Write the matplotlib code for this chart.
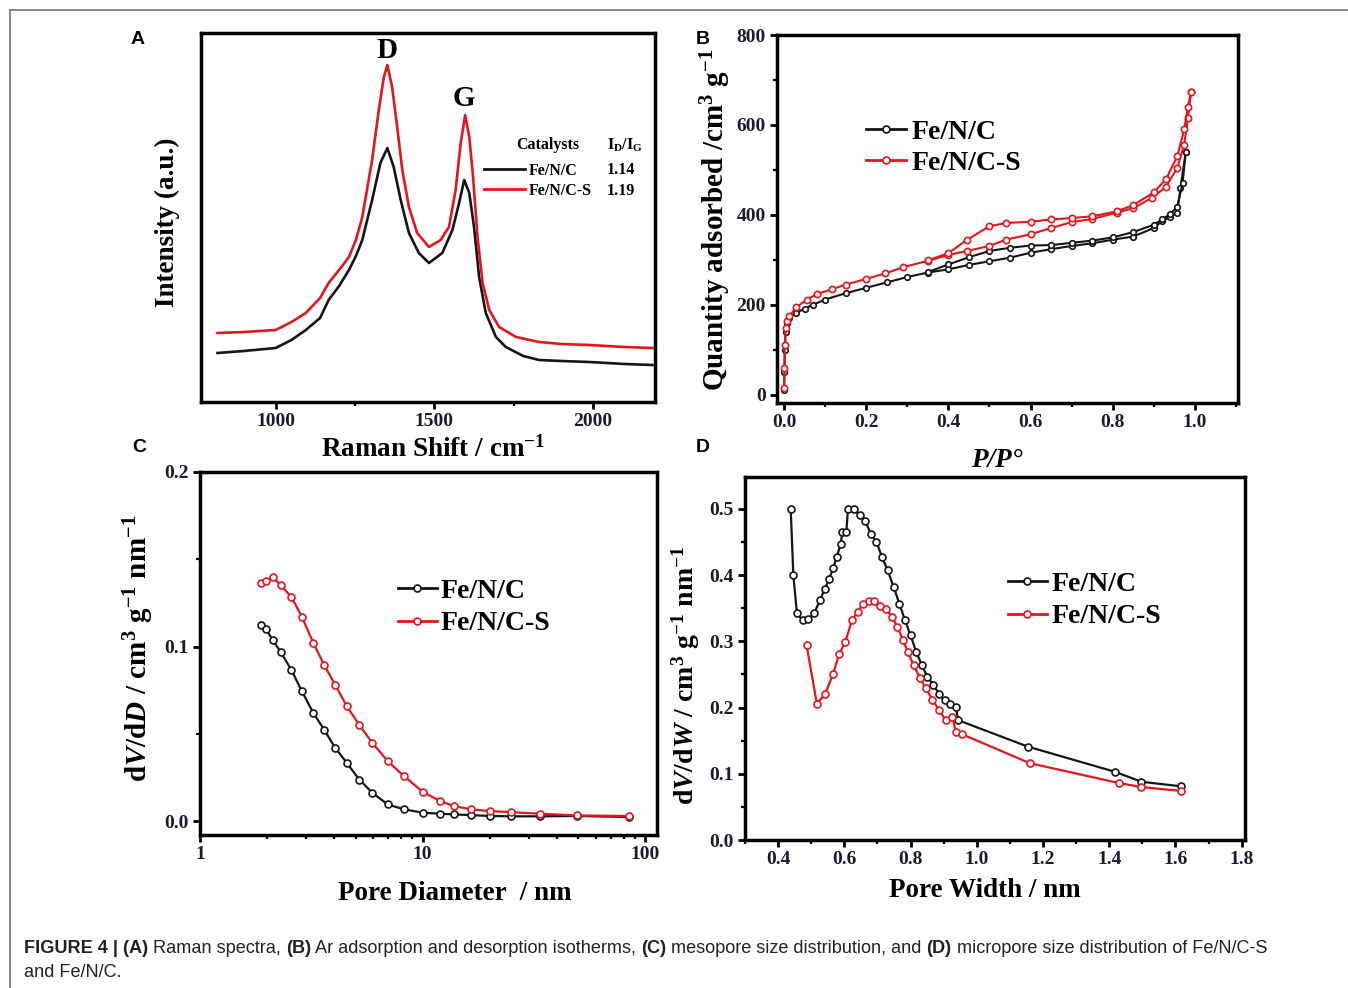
import matplotlib
matplotlib.use("Agg")
import matplotlib.pyplot as plt
from matplotlib.lines import Line2D
from matplotlib.ticker import MultipleLocator, NullFormatter, FormatStrFormatter
from matplotlib import font_manager

W, H = 1348, 988

# ---------------- data ----------------
# (A) Raman spectra, intensity in arbitrary units
raman_red_x = [817, 900, 1000, 1050, 1095, 1140, 1167, 1200, 1231, 1253, 1273, 1304, 1325,
               1341, 1352, 1367, 1383, 1399, 1420, 1446, 1483, 1520, 1546, 1567, 1583,
               1597, 1610, 1622, 1636, 1652, 1673, 1704, 1757, 1830, 1900, 1988, 2100, 2187]
raman_red_y = [65, 66, 68, 76, 85, 100, 115, 128, 141, 158, 181, 238, 288,
               321, 333, 311, 271, 228, 191, 165, 151, 158, 171, 208, 255,
               283, 261, 221, 161, 115, 88, 71, 61, 56, 54, 53, 51, 50]
raman_blk_x = [817, 900, 1000, 1050, 1095, 1140, 1167, 1200, 1231, 1253, 1273, 1304, 1330,
               1352, 1372, 1394, 1420, 1451, 1483, 1525, 1557, 1578, 1594, 1610, 1625,
               1641, 1662, 1694, 1725, 1780, 1830, 1900, 1988, 2100, 2187]
raman_blk_y = [45, 47, 50, 58, 68, 80, 98, 112, 128, 142, 158, 198, 235,
               250, 231, 198, 165, 145, 135, 145, 168, 195, 218, 205, 171,
               121, 85, 61, 51, 42, 38, 37, 36, 34, 33]
catalysts = ["Fe/N/C", "Fe/N/C-S"]
id_ig = [1.14, 1.19]

# (B) Ar adsorption / desorption isotherms
iso_blk_ads_p = [0.0005, 0.001, 0.002, 0.004, 0.008, 0.013, 0.03, 0.05, 0.07, 0.1, 0.15,
                 0.2, 0.25, 0.3, 0.35, 0.4, 0.45, 0.5, 0.55, 0.6, 0.65, 0.7, 0.75,
                 0.8, 0.85, 0.9, 0.92, 0.94, 0.957, 0.965, 0.978]
iso_blk_ads_q = [10, 50, 100, 140, 160, 172, 182, 192, 200, 212, 226,
                 238, 250, 262, 272, 279, 289, 297, 305, 316, 324, 331, 337,
                 345, 352, 371, 386, 395, 405, 460, 541]
iso_blk_des_p = [0.978, 0.97, 0.957, 0.94, 0.92, 0.9, 0.85, 0.8, 0.75, 0.7, 0.65, 0.6,
                 0.55, 0.5, 0.45, 0.4, 0.35]
iso_blk_des_q = [541, 470, 418, 402, 390, 378, 362, 350, 343, 338, 333, 332,
                 327, 320, 306, 290, 273]
iso_red_ads_p = [0.0005, 0.001, 0.002, 0.004, 0.008, 0.013, 0.03, 0.056, 0.08, 0.117, 0.15,
                 0.2, 0.247, 0.29, 0.35, 0.4, 0.446, 0.5, 0.54, 0.6, 0.65, 0.7, 0.75,
                 0.81, 0.85, 0.896, 0.93, 0.957, 0.974, 0.983, 0.991]
iso_red_ads_q = [15, 60, 110, 148, 165, 175, 195, 212, 224, 235, 245,
                 258, 270, 284, 298, 311, 320, 331, 345, 357, 371, 384, 391,
                 405, 415, 438, 463, 504, 556, 615, 674]
iso_red_des_p = [0.991, 0.983, 0.974, 0.957, 0.93, 0.9, 0.85, 0.81, 0.75, 0.7, 0.65,
                 0.6, 0.54, 0.5, 0.446, 0.4, 0.35]
iso_red_des_q = [674, 640, 590, 530, 480, 450, 422, 408, 397, 393, 390,
                 385, 382, 375, 345, 315, 299]

# (C) mesopore size distribution
meso_d = [1.88, 1.98, 2.12, 2.30, 2.57, 2.87, 3.23, 3.61, 4.05, 4.57, 5.19, 5.94,
          6.98, 8.25, 10.0, 12.0, 13.8, 16.5, 20.0, 25.0, 33.6, 49.5, 84.8]
meso_blk = [0.1124, 0.110, 0.1038, 0.097, 0.0867, 0.0743, 0.0619, 0.0524, 0.0419,
            0.0333, 0.0238, 0.0162, 0.0095, 0.0067, 0.0048, 0.0042, 0.0038, 0.0034,
            0.0029, 0.0027, 0.0027, 0.0029, 0.0023]
meso_red = [0.1362, 0.1375, 0.140, 0.1352, 0.1286, 0.117, 0.102, 0.0895, 0.078,
            0.0657, 0.0552, 0.0448, 0.0343, 0.0257, 0.0168, 0.0114, 0.0086, 0.0067,
            0.0057, 0.0051, 0.0042, 0.0032, 0.0029]

# (D) micropore size distribution
micro_blk_w = [0.438, 0.446, 0.457, 0.474, 0.491, 0.509, 0.526, 0.541, 0.554, 0.566,
               0.577, 0.589, 0.594, 0.606, 0.611, 0.629, 0.646, 0.663, 0.68, 0.697,
               0.714, 0.731, 0.749, 0.766, 0.783, 0.80, 0.817, 0.834, 0.851, 0.869,
               0.886, 0.903, 0.92, 0.937, 0.943, 1.154, 1.417, 1.497, 1.617]
micro_blk = [0.500, 0.400, 0.342, 0.332, 0.334, 0.342, 0.362, 0.379, 0.394, 0.410,
             0.427, 0.447, 0.465, 0.465, 0.500, 0.500, 0.490, 0.482, 0.462, 0.450,
             0.427, 0.407, 0.382, 0.357, 0.332, 0.309, 0.284, 0.264, 0.246, 0.234,
             0.221, 0.211, 0.206, 0.201, 0.181, 0.141, 0.103, 0.088, 0.081]
micro_red_w = [0.486, 0.517, 0.543, 0.566, 0.585, 0.603, 0.623, 0.640, 0.657, 0.674,
               0.691, 0.709, 0.726, 0.743, 0.76, 0.777, 0.792, 0.809, 0.829, 0.846,
               0.866, 0.886, 0.906, 0.926, 0.937, 0.954, 1.16, 1.429, 1.497, 1.617]
micro_red = [0.294, 0.206, 0.221, 0.251, 0.281, 0.299, 0.332, 0.344, 0.357, 0.361,
             0.361, 0.354, 0.349, 0.337, 0.322, 0.302, 0.284, 0.264, 0.244, 0.229,
             0.212, 0.196, 0.181, 0.186, 0.163, 0.160, 0.116, 0.086, 0.080, 0.074]

BLK = "#151515"
RED = "#e3161d"
TICK = "#1b1b30"

plt.rcParams.update({
    "font.family": "Liberation Serif",
    "font.weight": "bold",
    "mathtext.fontset": "custom",
    "mathtext.rm": "Liberation Serif:bold",
    "mathtext.bf": "Liberation Serif:bold",
    "mathtext.it": "Liberation Serif:italic:bold",
    "mathtext.bfit": "Liberation Serif:italic:bold",
    "axes.linewidth": 2.5,
    "xtick.direction": "out",
    "ytick.direction": "out",
    "xtick.major.width": 2.0,
    "ytick.major.width": 2.0,
    "xtick.minor.width": 1.6,
    "ytick.minor.width": 1.6,
    "xtick.major.size": 5,
    "ytick.major.size": 5,
    "xtick.minor.size": 3,
    "ytick.minor.size": 3,
    "xtick.labelsize": 14,
    "ytick.labelsize": 14,
    "xtick.labelcolor": TICK,
    "ytick.labelcolor": TICK,
})

fig = plt.figure(figsize=(W / 100, H / 100), dpi=100)


def rect(l, t, r, b):
    return [l / W, 1 - b / H, (r - l) / W, (b - t) / H]


def ftext(px, py, s, **kw):
    kw.setdefault("ha", "center")
    kw.setdefault("va", "center")
    return fig.text(px / W, 1 - py / H, s, **kw)


def style(ax):
    ax.tick_params(which="both", top=False, right=False, pad=3)
    for lab in ax.get_xticklabels() + ax.get_yticklabels():
        lab.set_fontweight("bold")


mk = dict(marker="o", mfc="white", mew=1.2)

# ---------------- A ----------------
axA = fig.add_axes(rect(201, 33, 655, 402))
axA.plot(raman_blk_x, raman_blk_y, color=BLK, lw=1.9)
axA.plot(raman_red_x, raman_red_y, color=RED, lw=1.9)
axA.set_xlim(765, 2195)
axA.set_ylim(-4, 365)
axA.xaxis.set_major_locator(MultipleLocator(500))
axA.xaxis.set_minor_locator(MultipleLocator(250))
axA.set_yticks([])
style(axA)
axA.text(1351, 348, "D", ha="center", va="center", fontsize=21)
axA.text(1594, 300, "G", ha="center", va="center", fontsize=21)
hA = [Line2D([], [], color=BLK, lw=2), Line2D([], [], color=RED, lw=2)]
axA.legend(hA, catalysts, loc="center left", bbox_to_anchor=(0.623, 0.600),
           frameon=False, fontsize=11.5, handlelength=2.6, handletextpad=0.2,
           labelspacing=0.25, borderpad=0, borderaxespad=0)
axA.text(0.694, 0.696, "Catalysts", transform=axA.transAxes, va="center", fontsize=11.5)
axA.text(0.894, 0.696, r"I$_\mathbf{D}$/I$_\mathbf{G}$", transform=axA.transAxes,
         va="center", fontsize=11.5)
for r, yy in zip(id_ig, [0.629, 0.572]):
    axA.text(0.894, yy, f"{r:.2f}", transform=axA.transAxes, va="center", fontsize=11.5)

# ---------------- B ----------------
axB = fig.add_axes(rect(777, 35, 1238, 403))
axB.plot(iso_blk_ads_p, iso_blk_ads_q, color=BLK, lw=1.5, ms=4, mec=BLK, **mk)
axB.plot(iso_blk_des_p, iso_blk_des_q, color=BLK, lw=1.5, ms=4, mec=BLK, **mk)
axB.plot(iso_red_ads_p, iso_red_ads_q, color=RED, lw=1.5, ms=4.5, mec=RED, **mk)
axB.plot(iso_red_des_p, iso_red_des_q, color=RED, lw=1.5, ms=4.5, mec=RED, **mk)
axB.set_xlim(-0.017, 1.105)
axB.set_ylim(-18, 800)
axB.xaxis.set_major_locator(MultipleLocator(0.2))
axB.xaxis.set_minor_locator(MultipleLocator(0.1))
axB.xaxis.set_major_formatter(FormatStrFormatter("%.1f"))
axB.yaxis.set_major_locator(MultipleLocator(200))
axB.yaxis.set_minor_locator(MultipleLocator(100))
style(axB)
hB = [Line2D([], [], color=BLK, lw=2, ms=5, mec=BLK, **mk),
      Line2D([], [], color=RED, lw=2, ms=5, mec=RED, **mk)]
axB.legend(hB, catalysts, loc="center left", bbox_to_anchor=(0.193, 0.693),
           frameon=False, fontsize=20, handlelength=1.45, handletextpad=0.2,
           labelspacing=0.2, borderpad=0, borderaxespad=0, numpoints=1)

# ---------------- C ----------------
axC = fig.add_axes(rect(200, 472, 657, 835))
axC.plot(meso_d, meso_blk, color=BLK, lw=1.6, ms=5, mec=BLK, **mk)
axC.plot(meso_d, meso_red, color=RED, lw=1.6, ms=5, mec=RED, **mk)
axC.set_xscale("log")
axC.set_xlim(1, 113)
axC.set_ylim(-0.008, 0.2)
axC.set_xticks([1, 10, 100])
axC.set_xticklabels(["1", "10", "100"])
axC.xaxis.set_minor_formatter(NullFormatter())
axC.yaxis.set_major_locator(MultipleLocator(0.1))
axC.yaxis.set_minor_locator(MultipleLocator(0.05))
axC.yaxis.set_major_formatter(FormatStrFormatter("%.1f"))
style(axC)
hC = [Line2D([], [], color=BLK, lw=2, ms=5, mec=BLK, **mk),
      Line2D([], [], color=RED, lw=2, ms=5, mec=RED, **mk)]
axC.legend(hC, catalysts, loc="center left", bbox_to_anchor=(0.433, 0.627),
           frameon=False, fontsize=20, handlelength=1.4, handletextpad=0.15,
           labelspacing=0.25, borderpad=0, borderaxespad=0, numpoints=1)

# ---------------- D ----------------
axD = fig.add_axes(rect(745, 477, 1245, 840))
axD.plot(micro_blk_w, micro_blk, color=BLK, lw=1.6, ms=5, mec=BLK, **mk)
axD.plot(micro_red_w, micro_red, color=RED, lw=1.6, ms=5, mec=RED, **mk)
axD.set_xlim(0.3, 1.81)
axD.set_ylim(0, 0.548)
axD.xaxis.set_major_locator(MultipleLocator(0.2))
axD.xaxis.set_minor_locator(MultipleLocator(0.1))
axD.xaxis.set_major_formatter(FormatStrFormatter("%.1f"))
axD.yaxis.set_major_locator(MultipleLocator(0.1))
axD.yaxis.set_minor_locator(MultipleLocator(0.05))
axD.yaxis.set_major_formatter(FormatStrFormatter("%.1f"))
style(axD)
hD = [Line2D([], [], color=BLK, lw=2, ms=5, mec=BLK, **mk),
      Line2D([], [], color=RED, lw=2, ms=5, mec=RED, **mk)]
axD.legend(hD, catalysts, loc="center left", bbox_to_anchor=(0.526, 0.66),
           frameon=False, fontsize=20, handlelength=1.4, handletextpad=0.15,
           labelspacing=0.25, borderpad=0, borderaxespad=0, numpoints=1)

# ---------------- axis labels ----------------
ftext(433, 449, r"Raman Shift / cm$^{-1}$", fontsize=19.5)
ftext(167, 222, "Intensity (a.u.)", fontsize=19.5, rotation=90)
ftext(997, 460, "P/P\u00b0", fontsize=19.5, style="italic")
ftext(716, 220, r"Quantity adsorbed /cm$^{3}$ g$^{-1}$", fontsize=21, rotation=90)
ftext(455, 893, "Pore Diameter  / nm", fontsize=19.5)
ftext(139, 648, r"d$\mathbfit{V}$/d$\mathbfit{D}$ / cm$^{3}$ g$^{-1}$ nm$^{-1}$",
      fontsize=21, rotation=90)
ftext(985, 890, "Pore Width / nm", fontsize=19.5)
ftext(686, 675, r"d$\mathbfit{V}$/d$\mathbfit{W}$ / cm$^{3}$ g$^{-1}$ nm$^{-1}$",
      fontsize=20, rotation=90)

# panel letters
for letter, (px, py) in zip("ABCD", [(138, 40), (703, 40), (139, 447), (703, 447)]):
    ftext(px, py, letter, fontsize=14, family="Liberation Sans", weight="bold")

# outer frame (top and left edges visible)
fig.add_artist(Line2D([10 / W, 10 / W], [0, 1 - 10 / H], color="#777777", lw=1.2))
fig.add_artist(Line2D([10 / W, 1], [1 - 10 / H, 1 - 10 / H], color="#777777", lw=1.2))

# ---------------- caption ----------------
cap_family = "Liberation Sans"
try:
    font_manager.findfont("Liberation Sans Narrow", fallback_to_default=False)
    cap_family = "Liberation Sans Narrow"
except Exception:
    pass

line1 = [("FIGURE 4 | (A)", True), (" Raman spectra, ", False), ("(B)", True),
         (" Ar adsorption and desorption isotherms, ", False), ("(C)", True),
         (" mesopore size distribution, and ", False), ("(D)", True),
         (" micropore size distribution of Fe/N/C-S", False)]
line2 = [("and Fe/N/C.", False)]

renderer = fig.canvas.get_renderer()


def run_width(s, bold, size):
    t = fig.text(0, 0, "|" + s + "|", family=cap_family, fontsize=size,
                 weight="bold" if bold else "normal")
    t2 = fig.text(0, 0, "||", family=cap_family, fontsize=size,
                  weight="bold" if bold else "normal")
    w = t.get_window_extent(renderer).width - t2.get_window_extent(renderer).width
    t.remove()
    t2.remove()
    return w


size = 12
total = sum(run_width(s, b, size) for s, b in line1)
size = size * (1270 - 24) / total


def draw_line(runs, px, py):
    x = px
    for s, b in runs:
        fig.text(x / W, 1 - py / H, s, family=cap_family, fontsize=size,
                 weight="bold" if b else "normal", color="#222222",
                 ha="left", va="center")
        x += run_width(s, b, size)


draw_line(line1, 24, 948)
draw_line(line2, 24, 972)

fig.savefig("out.png", dpi=100)
